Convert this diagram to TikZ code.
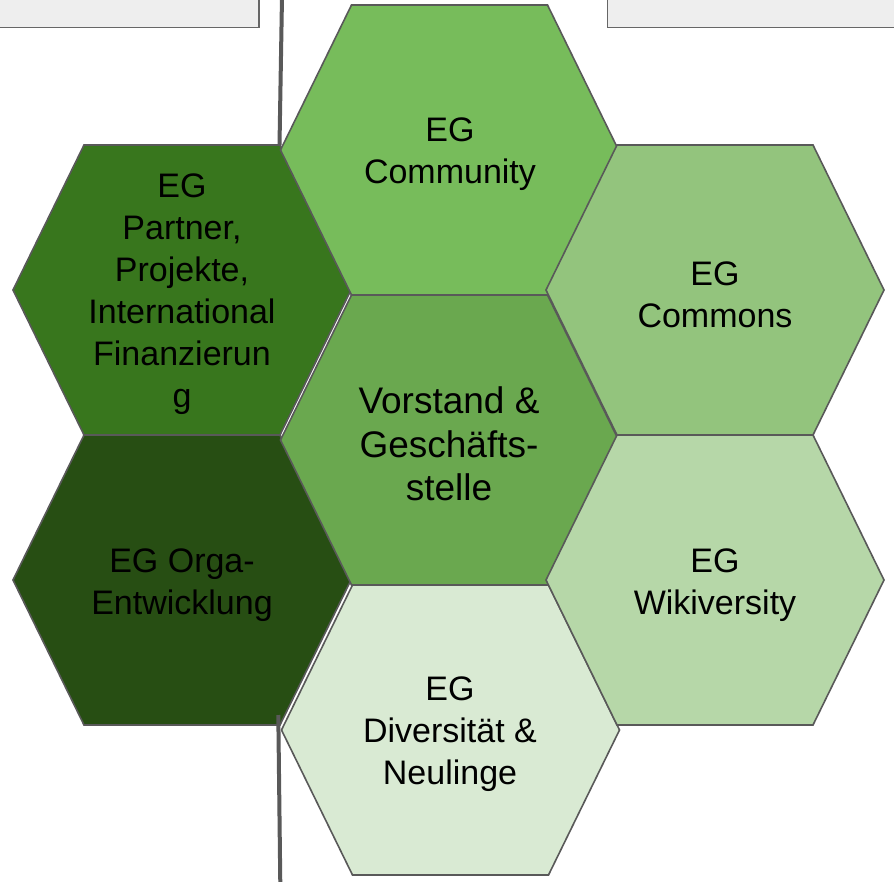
\documentclass[tikz,border=0pt]{standalone}
\usepackage{fontspec}
\setmainfont{Liberation Sans}
\definecolor{cpartner}{HTML}{38761D}
\definecolor{corga}{HTML}{274E13}
\definecolor{cvorstand}{HTML}{6AA84F}
\definecolor{ccommunity}{HTML}{77BC5B}
\definecolor{ccommons}{HTML}{93C47D}
\definecolor{cwiki}{HTML}{B6D7A8}
\definecolor{cdivers}{HTML}{D9EAD3}
\definecolor{cline}{HTML}{595959}
\definecolor{crect}{HTML}{EEEEEE}
\definecolor{crectline}{HTML}{666666}
\tikzset{
  hexa/.pic={\path[draw=cline, line width=1.6pt, line join=miter, fill=#1]
    (-169,0) -- (-98,145) -- (98,145) -- (169,0) -- (98,-145) -- (-98,-145) -- cycle;},
  hextext/.style={align=center, text=black, inner sep=0pt, font=\fontsize{34}{42}\selectfont},
  bigtext/.style={align=center, text=black, inner sep=0pt, font=\fontsize{37}{43.5}\selectfont},
  greybox/.style={draw=crectline, fill=crect, line width=1.8pt},
  divider/.style={draw=cline, line width=4pt}
}
\begin{document}
\begin{tikzpicture}[x=1pt, y=-1pt]
\useasboundingbox (0,0) rectangle (894,881);
\clip (0,0) rectangle (894,881);
\fill[white] (0,0) rectangle (894,881);
% grey boxes at top
\draw[greybox] (-10,-10) rectangle (259,27.5);
\draw[greybox] (607.5,-10) rectangle (904,27.5);
% hexagons
\pic at (182,290) {hexa=cpartner};
\pic at (182,580) {hexa=corga};
\pic at (449.5,150) {hexa=ccommunity};
\pic at (449.5,440) {hexa=cvorstand};
\pic at (450.5,730) {hexa=cdivers};
\pic at (715,290) {hexa=ccommons};
\pic at (715,580) {hexa=cwiki};
% texts
\node[hextext] (partner) at (182,294.5) {EG\\Partner,\\Projekte,\\International\\Finanzierun\\g};
\node[hextext] (orga) at (182,585.5) {EG Orga-\\Entwicklung};
\node[hextext] (community) at (450,154.5) {EG\\Community};
\node[bigtext] (vorstand) at (449,444) {Vorstand \&\\Gesch\"afts-\\stelle};
\node[hextext] (divers) at (450,734.5) {EG\\Diversit\"at \&\\Neulinge};
\node[hextext] (commons) at (715,294.5) {EG\\Commons};
\node[hextext] (wiki) at (715,585.5) {EG\\Wikiversity};
% vertical divider line pieces
\coordinate (d1a) at (282,-3);
\coordinate (d1b) at (279.5,145);
\coordinate (d2a) at (278.3,715);
\coordinate (d2b) at (280.3,884);
\draw[divider] (d1a) -- (d1b);
\draw[divider] (d2a) -- (d2b);
\end{tikzpicture}
\end{document}
